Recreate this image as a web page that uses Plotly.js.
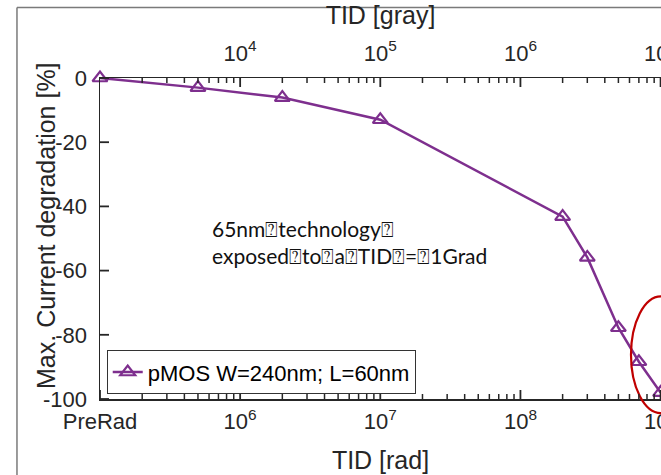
<!DOCTYPE html>
<html><head><meta charset="utf-8">
<script src="https://cdn.plot.ly/plotly-3.0.1.min.js"></script>
<style>html,body{margin:0;padding:0;background:#fff;overflow:hidden}#plot{width:661px;height:475px}</style>
</head><body><div id="plot"></div>
<script>
// Data (TID in rad, degradation in %)
const tidRad = [1e5, 5e5, 2e6, 1e7, 2e8, 3e8, 5e8, 7e8, 1e9];
const degradation = [0, -3.0, -6.1, -13.0, -43.2, -55.9, -77.8, -88.4, -98.0];
const radPerGray = 100;
const seriesName = 'pMOS W=240nm; L=60nm';
const radTickVals = [1e5, 1e6, 1e7, 1e8, 1e9];
const radTickText = ['PreRad', '10<sup>6</sup>', '10<sup>7</sup>', '10<sup>8</sup>', '10<sup>9</sup>'];
const grayTickVals = [1e4, 1e5, 1e6, 1e7];
const grayTickText = ['10<sup>4</sup>', '10<sup>5</sup>', '10<sup>6</sup>', '10<sup>7</sup>'];
const yTickVals = [0, -20, -40, -60, -80, -100];
const yTickText = ['0', '-20', '-40', '-60', '-80', '-100'];
const noteText = '65nm\u2370technology\u2370<br>exposed\u2370to\u2370a\u2370TID\u2370=\u23701Grad';

function minorVals(lo, hi) {
  const v = [];
  for (let e = lo; e < hi; e++) for (let m = 2; m <= 9; m++) v.push(m * Math.pow(10, e));
  return v;
}

const purple = '#7E2F8E';
const axColor = '#262626';
const fam = 'Liberation Sans, Arial, sans-serif';
const tickFont = {family: fam, size: 22, color: axColor};
const titleFont = {family: fam, size: 25, color: axColor};
const radRange = [5, 9.003];
const grayRange = [3, 7.003];
const yRange = [-100, 0];
const W = 661, H = 475, M = {l: 100, r: 0, t: 78, b: 76};
const plotW = W - M.l - M.r, plotH = H - M.t - M.b;

// Inward-pointing tick marks built from the tick arrays (paper coordinates)
function logFrac(v, r) { return (Math.log10(v) - r[0]) / (r[1] - r[0]); }
const tickShapes = [];
function tickLine(x0, x1, y0, y1, w) {
  tickShapes.push({type: 'line', xref: 'paper', yref: 'paper', x0: x0, x1: x1, y0: y0, y1: y1,
                   line: {color: axColor, width: w}, layer: 'above'});
}
const majY = 9 / plotH, minY = 5 / plotH, majX = 9 / plotW;
radTickVals.forEach(v => { const f = logFrac(v, radRange); if (f >= 0 && f <= 1) tickLine(f, f, 0, majY, 1.8); });
minorVals(5, 9).forEach(v => { const f = logFrac(v, radRange); if (f >= 0 && f <= 1) tickLine(f, f, 0, minY, 1.5); });
grayTickVals.forEach(v => { const f = logFrac(v, grayRange); if (f >= 0 && f <= 1) tickLine(f, f, 1, 1 - majY, 1.8); });
minorVals(3, 7).forEach(v => { const f = logFrac(v, grayRange); if (f >= 0 && f <= 1) tickLine(f, f, 1, 1 - minY, 1.5); });
yTickVals.forEach(v => { const f = (v - yRange[0]) / (yRange[1] - yRange[0]); tickLine(0, majX, f, f, 1.8); });

const traces = [{
  x: tidRad, y: degradation, type: 'scatter', mode: 'lines+markers', name: seriesName,
  line: {color: purple, width: 2.5},
  marker: {symbol: 'triangle-up-open', size: 13, color: purple, line: {width: 2.2, color: purple}},
  cliponaxis: false, xaxis: 'x', yaxis: 'y'
}, {
  x: tidRad.map(v => v / radPerGray), y: degradation, type: 'scatter', mode: 'none',
  showlegend: false, hoverinfo: 'skip', xaxis: 'x2', yaxis: 'y'
}];

const layout = {
  width: W, height: H,
  margin: M,
  paper_bgcolor: '#fff', plot_bgcolor: '#fff',
  font: tickFont,
  showlegend: true,
  legend: {x: 0.012, y: 0.015, xanchor: 'left', yanchor: 'bottom', bgcolor: '#fff',
           bordercolor: '#333', borderwidth: 1, font: {family: fam, size: 22, color: '#000'},
           tracegroupgap: 0, itemwidth: 30},
  xaxis: {
    type: 'log', range: radRange, showline: true, linecolor: axColor, linewidth: 1.5,
    ticks: '', tickvals: radTickVals, ticktext: radTickText, ticklabeloverflow: 'allow',
    tickfont: tickFont, showgrid: false, zeroline: false, ticklabelstandoff: 2,
    title: {text: 'TID [rad]', font: titleFont, standoff: 18}
  },
  xaxis2: {
    type: 'log', range: grayRange, overlaying: 'x', anchor: 'y', side: 'top',
    showline: true, linecolor: axColor, linewidth: 1.5, ticklabeloverflow: 'allow',
    ticks: '', tickvals: grayTickVals, ticktext: grayTickText,
    tickfont: tickFont, showgrid: false, zeroline: false, ticklabelstandoff: 7,
    title: {text: 'TID [gray]', font: titleFont, standoff: 5}
  },
  yaxis: {
    range: yRange, showline: true, linecolor: axColor, linewidth: 1.5,
    ticks: '', tickvals: yTickVals, ticktext: yTickText,
    tickfont: tickFont, showgrid: false, zeroline: false, ticklabelstandoff: 7
  },
  annotations: [{
    xref: 'paper', yref: 'paper', x: 0.196, y: 0.575, xanchor: 'left', yanchor: 'top', align: 'left',
    showarrow: false, text: noteText,
    font: {family: 'Lato, Open Sans, DejaVu Sans, sans-serif', size: 21, color: '#111'}
  }, {
    xref: 'paper', yref: 'paper', x: -0.0963, y: 0.542, xanchor: 'center', yanchor: 'middle',
    textangle: -90, showarrow: false, text: 'Max. Current degradation [%]', font: titleFont
  }],
  shapes: [
    {type: 'circle', xref: 'paper', yref: 'paper', x0: 0.9465, x1: 1.053, y0: -0.044, y1: 0.32,
     line: {color: '#C00000', width: 2.2}, fillcolor: 'rgba(0,0,0,0)'},
    {type: 'line', xref: 'paper', yref: 'paper', x0: -0.148, x1: -0.148, y0: 1.22, y1: -0.25,
     line: {color: '#7a7a7a', width: 1.5}},
    {type: 'line', xref: 'paper', yref: 'paper', x0: -0.148, x1: 1.05, y0: 1.22, y1: 1.22,
     line: {color: '#7a7a7a', width: 1.5}}
  ].concat(tickShapes)
};

Plotly.newPlot('plot', traces, layout, {displayModeBar: false, staticPlot: true});
</script></body></html>
